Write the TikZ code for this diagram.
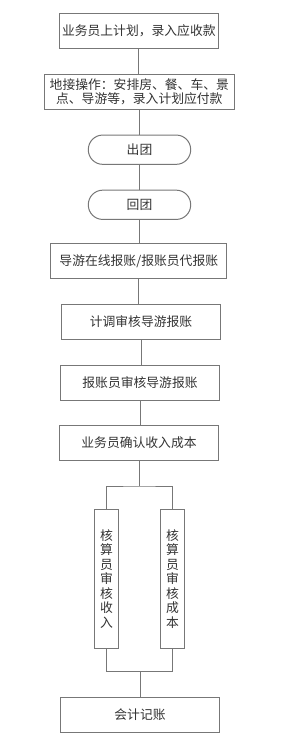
\documentclass[tikz,border=0pt]{standalone}
\usepackage{fontspec}
\setmainfont{Noto Sans CJK SC}
\definecolor{linegray}{HTML}{777777}
\definecolor{textgray}{HTML}{333333}
\begin{document}
\begin{tikzpicture}[x=1pt,y=-1pt,
  every node/.style={font=\fontsize{12.8}{14.7}\selectfont, text=textgray, inner sep=0pt},
  box/.style={draw=linegray, line width=1pt, rectangle, align=center},
  pill/.style={draw=linegray, line width=1pt, rectangle, rounded corners=14.5pt, minimum width=102.4pt, minimum height=29.3pt},
  tall/.style={draw=linegray, line width=1pt, rectangle, align=center, minimum width=24.4pt, minimum height=139pt, font=\fontsize{12.8}{14.5}\selectfont},
  link/.style={draw=linegray, line width=1pt}]
\useasboundingbox[fill=white] (0,0) rectangle (281,741);
\node[box, minimum width=159pt, minimum height=35pt] (b1) at (138.8,30.8) {业务员上计划，录入应收款};
\node[box, minimum width=190pt, minimum height=35.3pt] (b2) at (139.3,91.7) {地接操作：安排房、餐、车、景\\点、导游等，录入计划应付款};
\node[pill] (s1) at (139.5,149.7) {出团};
\node[pill] (s2) at (139.5,204.8) {回团};
\node[box, minimum width=175.7pt, minimum height=35pt] (b3) at (138.8,260.8) {导游在线报账/报账员代报账};
\node[box, minimum width=159.4pt, minimum height=35pt] (b4) at (141,321.7) {计调审核导游报账};
\node[box, minimum width=159.4pt, minimum height=35.3pt] (b5) at (140,382.7) {报账员审核导游报账};
\node[box, minimum width=159.4pt, minimum height=35pt] (b6) at (139,442.8) {业务员确认收入成本};
\node[tall] (L) at (106.5,578.8) {核\\算\\员\\审\\核\\收\\入};
\node[tall] (R) at (172.5,578.8) {核\\算\\员\\审\\核\\成\\本};
\node[box, minimum width=159.4pt, minimum height=35pt] (b7) at (140,714.8) {会计记账};
\coordinate (split) at (139.3,486);
\coordinate (merge) at (140.3,671.3);
\draw[link] (b1.south) -- (b1.south |- b2.north);
\draw[link] (b2.south) -- (b2.south |- s1.north);
\draw[link] (s1.south) -- (s1.south |- s2.north);
\draw[link] (s2.south) -- (s2.south |- b3.north);
\draw[link] (b3.south) -- (b3.south |- b4.north);
\draw[link] (b4.south) -- (b4.south |- b5.north);
\draw[link] (b5.south) -- (b5.south |- b6.north);
\draw[link] (b6.south) -- (b6.south |- split);
\draw[link] (L.north) |- (split) -| (R.north);
\draw[link] (L.south) |- (merge) -| (R.south);
\draw[link] (merge) -- (merge |- b7.north);
\end{tikzpicture}
\end{document}
